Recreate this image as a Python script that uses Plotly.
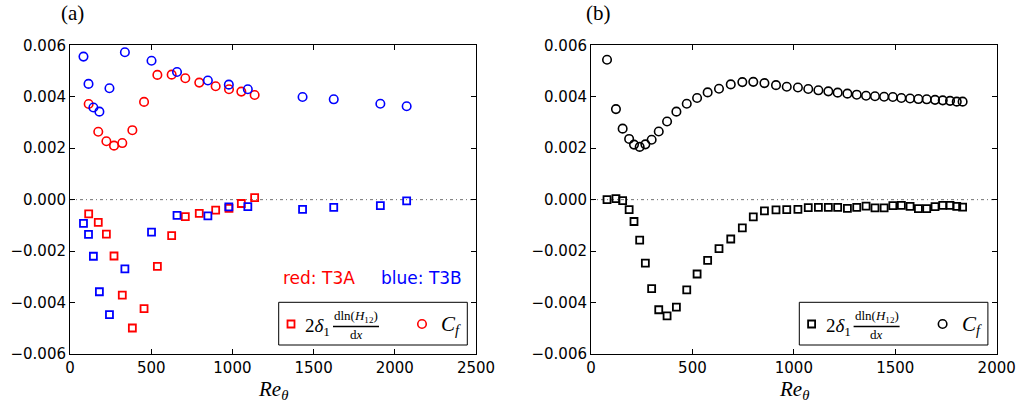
import plotly.graph_objects as go

W, H = 1031, 404

# ---------------- data ----------------
# panel (a) T3A (red)
re_a = [115, 174, 224, 271, 322, 384, 456, 538, 626, 710, 796, 897, 979, 1055, 1137]
cf_a = [0.00372, 0.00264, 0.00227, 0.00210, 0.00220, 0.00270, 0.00380, 0.00485, 0.00486,
        0.00472, 0.00455, 0.00441, 0.00429, 0.00420, 0.00407]
sh_a = [-0.00055, -0.00088, -0.00134, -0.00219, -0.00371, -0.00499, -0.00424, -0.00259,
        -0.00140, -0.00066, -0.00053, -0.00041, -0.00034, -0.00015, 0.00008]
# panel (a) T3B (blue)
re_b = [83, 114, 144, 181, 243, 338, 502, 659, 849, 978, 1095, 1432, 1624, 1911, 2073]
cf_b = [0.00556, 0.00450, 0.00358, 0.00342, 0.00433, 0.00573, 0.00540, 0.00496, 0.00463,
        0.00447, 0.00429, 0.00399, 0.00390, 0.00373, 0.00363]
sh_b = [-0.00092, -0.00135, -0.00220, -0.00358, -0.00447, -0.00269, -0.00126, -0.00061,
        -0.00063, -0.00028, -0.00027, -0.00038, -0.00030, -0.00023, -0.00005]
# panel (b)
re_c = [79, 123, 156, 188, 212, 240, 268, 299, 334, 375, 421, 472, 523, 575, 631, 689, 746,
        800, 855, 912, 965, 1020, 1071, 1121, 1170, 1216, 1264, 1310, 1356, 1400, 1445, 1488,
        1530, 1573, 1614, 1655, 1696, 1734, 1770, 1803, 1832]
cf_c = [0.00544, 0.00352, 0.00276, 0.00236, 0.00214, 0.00205, 0.00215, 0.00233, 0.00265,
        0.00304, 0.00342, 0.00373, 0.00395, 0.00417, 0.00431, 0.00448, 0.00457, 0.00458,
        0.00453, 0.00445, 0.00439, 0.00436, 0.00430, 0.00425, 0.00421, 0.00416, 0.00412,
        0.00408, 0.00404, 0.00402, 0.00400, 0.00399, 0.00395, 0.00393, 0.00391, 0.00390,
        0.00388, 0.00386, 0.00384, 0.00381, 0.00381]
sh_c = [0.00000, 0.00004, -0.00004, -0.00039, -0.00085, -0.00157, -0.00247, -0.00346,
        -0.00428, -0.00452, -0.00418, -0.00351, -0.00289, -0.00236, -0.00190, -0.00153,
        -0.00110, -0.00067, -0.00044, -0.00040, -0.00039, -0.00038, -0.00031, -0.00030,
        -0.00030, -0.00030, -0.00034, -0.00030, -0.00025, -0.00032, -0.00032, -0.00023,
        -0.00022, -0.00026, -0.00035, -0.00035, -0.00027, -0.00022, -0.00022, -0.00026,
        -0.00029]

yticks = [-0.006, -0.004, -0.002, 0.0, 0.002, 0.004, 0.006]
xticks_a = [0, 500, 1000, 1500, 2000, 2500]
xticks_b = [0, 500, 1000, 1500, 2000]

RED, BLUE, BLACK = "#ff0000", "#0000ff", "#000000"

def px(x):
    return x / W

def py(y):
    return 1 - y / H

fig = go.Figure()

def sq(x, y, color, ax, legend, show):
    return go.Scatter(x=x, y=y, mode="markers", xaxis=ax[0], yaxis=ax[1], name=" ",
                      legend=legend, showlegend=show,
                      marker=dict(symbol="square-open", size=7, color=color,
                                  line=dict(width=1.8, color=color)))

def ci(x, y, color, ax, legend, show):
    return go.Scatter(x=x, y=y, mode="markers", xaxis=ax[0], yaxis=ax[1], name=" ",
                      legend=legend, showlegend=show,
                      marker=dict(symbol="circle-open", size=8.5, color=color,
                                  line=dict(width=1.6, color=color)))

fig.add_trace(sq(re_a, sh_a, RED, ("x", "y"), "legend", True))
fig.add_trace(ci(re_a, cf_a, RED, ("x", "y"), "legend", True))
fig.add_trace(sq(re_b, sh_b, BLUE, ("x", "y"), "legend", False))
fig.add_trace(ci(re_b, cf_b, BLUE, ("x", "y"), "legend", False))
fig.add_trace(sq(re_c, sh_c, BLACK, ("x2", "y2"), "legend2", True))
fig.add_trace(ci(re_c, cf_c, BLACK, ("x2", "y2"), "legend2", True))

tickfont = dict(family="DejaVu Sans", size=15, color="black")
axcommon = dict(showline=True, linecolor="black", linewidth=1, mirror="ticks",
                ticks="inside", ticklen=5, tickwidth=1, tickcolor="black",
                showgrid=False, zeroline=False, tickfont=tickfont, automargin=False)

yfmt = [("\u2212" if v < 0 else "") + f"{abs(v):.3f}" for v in yticks]

dom_y = [py(354), py(45.3)]
fig.update_layout(
    width=W, height=H, margin=dict(l=0, r=0, t=0, b=0, autoexpand=False),
    paper_bgcolor="white", plot_bgcolor="white",
    xaxis=dict(domain=[px(70), px(476)], range=[0, 2500], tickvals=xticks_a,
               ticktext=[str(v) for v in xticks_a], anchor="y", **axcommon),
    yaxis=dict(domain=dom_y, range=[-0.006, 0.006], tickvals=yticks, ticktext=yfmt,
               anchor="x", **axcommon),
    xaxis2=dict(domain=[px(591), px(996.7)], range=[0, 2000], tickvals=xticks_b,
                ticktext=[str(v) for v in xticks_b], anchor="y2", **axcommon),
    yaxis2=dict(domain=dom_y, range=[-0.006, 0.006], tickvals=yticks, ticktext=yfmt,
                anchor="x2", **axcommon),
    legend=dict(orientation="h", x=px(271), y=py(324), xanchor="left", yanchor="middle",
                entrywidth=86, entrywidthmode="pixels", bgcolor="rgba(0,0,0,0)",
                borderwidth=0, font=dict(size=12), itemclick=False),
    legend2=dict(orientation="h", x=px(271 + 520.6), y=py(324), xanchor="left",
                 yanchor="middle", entrywidth=86, entrywidthmode="pixels",
                 bgcolor="rgba(0,0,0,0)", borderwidth=0, font=dict(size=12),
                 itemclick=False),
)

# zero reference lines
for xr, yr in (("x domain", "y"), ("x2 domain", "y2")):
    fig.add_shape(type="line", xref=xr, yref=yr, x0=0, x1=1, y0=0, y1=0,
                  line=dict(color="#707070", width=1, dash="3px,3px,1px,3px"), layer="below")

serif = "Liberation Serif"
ann = []

def legend_box(dx):
    fig.add_shape(type="rect", xref="paper", yref="paper",
                  x0=px(278.7 + dx), x1=px(467.3 + dx), y0=py(345), y1=py(302.3),
                  line=dict(color="black", width=1), fillcolor="rgba(0,0,0,0)")
    fig.add_shape(type="line", xref="paper", yref="paper",
                  x0=px(333 + dx), x1=px(379 + dx), y0=py(326.5), y1=py(326.5),
                  line=dict(color="black", width=1.3))
    ann.append(dict(x=px(332 + dx), y=py(327), xanchor="right", yanchor="middle",
                    text="2<i>δ</i><sub>1</sub>",
                    font=dict(family=serif, size=19, color="black")))
    ann.append(dict(x=px(356 + dx), y=py(316), xanchor="center", yanchor="middle",
                    text="dln(<i>H</i><sub>12</sub>)",
                    font=dict(family=serif, size=13, color="black")))
    ann.append(dict(x=px(356 + dx), y=py(334.5), xanchor="center", yanchor="middle",
                    text="d<i>x</i>", font=dict(family=serif, size=13, color="black")))
    ann.append(dict(x=px(439 + dx), y=py(325), xanchor="left", yanchor="middle",
                    text="<i>C</i><sub><i>f</i></sub>",
                    font=dict(family=serif, size=21, color="black")))

legend_box(0)
legend_box(520.6)

ann.append(dict(x=px(319), y=py(278), xanchor="center", yanchor="middle", text="red: T3A",
                font=dict(family="DejaVu Sans", size=17, color=RED)))
ann.append(dict(x=px(421), y=py(278), xanchor="center", yanchor="middle", text="blue: T3B",
                font=dict(family="DejaVu Sans", size=17, color=BLUE)))
ann.append(dict(x=px(72), y=py(13), xanchor="center", yanchor="middle", text="(a)",
                font=dict(family=serif, size=21, color="black")))
ann.append(dict(x=px(599), y=py(13), xanchor="center", yanchor="middle", text="(b)",
                font=dict(family=serif, size=21, color="black")))
ann.append(dict(x=px(273), y=py(390), xanchor="center", yanchor="middle",
                text="<i>Re</i><sub><i>θ</i></sub>",
                font=dict(family=serif, size=21, color="black")))
ann.append(dict(x=px(794), y=py(390), xanchor="center", yanchor="middle",
                text="<i>Re</i><sub><i>θ</i></sub>",
                font=dict(family=serif, size=21, color="black")))

for a in ann:
    a.update(xref="paper", yref="paper", showarrow=False)
fig.update_layout(annotations=ann)

fig.write_html("out.html")
